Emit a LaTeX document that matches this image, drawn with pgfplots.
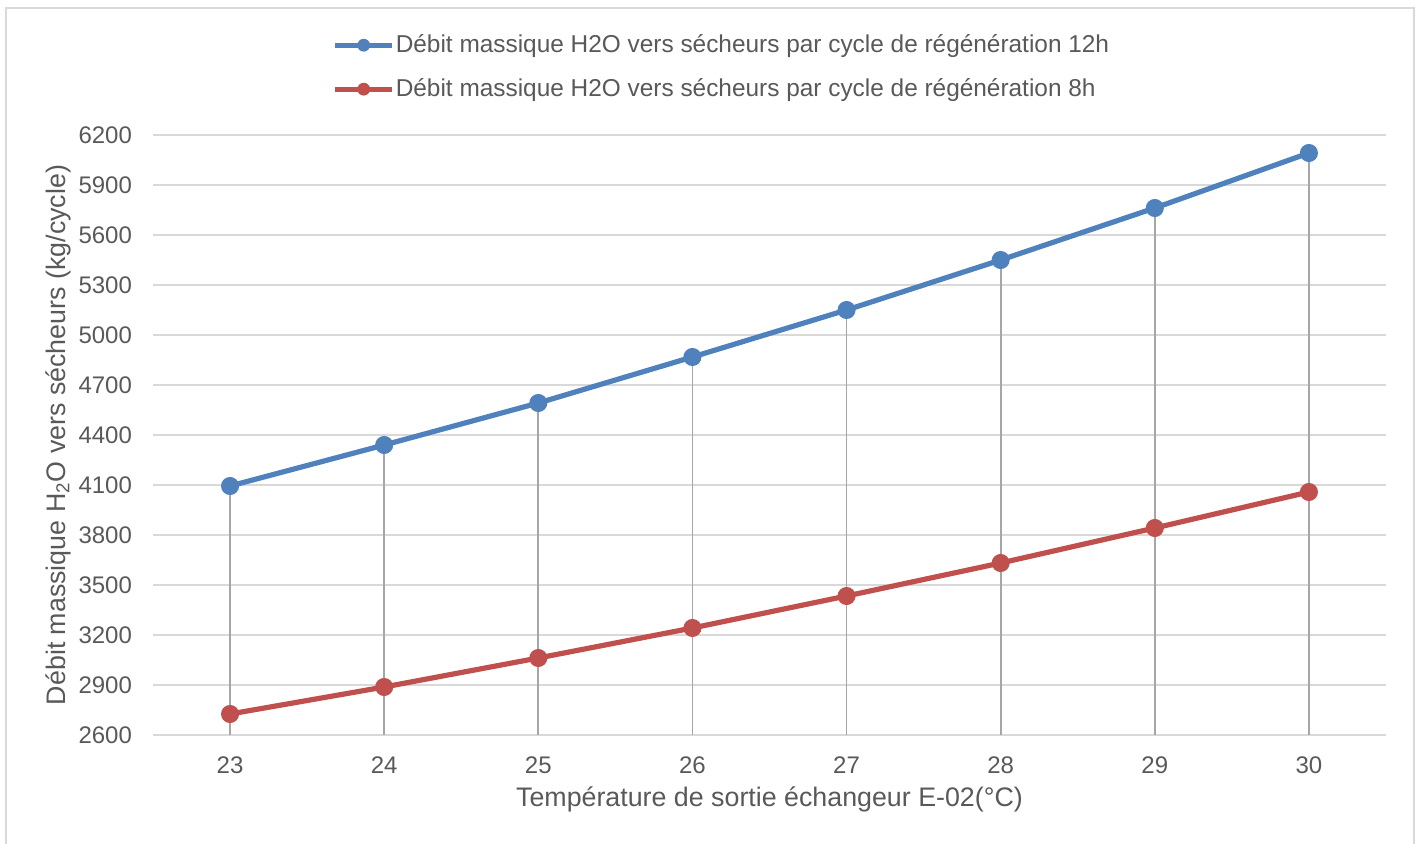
\documentclass[border=0pt]{standalone}
\usepackage{pgfplots}
\pgfplotsset{compat=1.18}
\usepackage{fontspec}
\setmainfont{Liberation Sans}
\definecolor{sblue}{HTML}{4F81BD}
\definecolor{sred}{HTML}{C0504D}
\definecolor{txt}{HTML}{595959}
\definecolor{gridgray}{HTML}{D9D9D9}
\definecolor{drop}{HTML}{A6A6A6}
\begin{document}
\begin{tikzpicture}
\useasboundingbox (0pt,0pt) rectangle (710.5pt,421.5pt);
\draw[gridgray, line width=1pt] (3pt,-3pt) rectangle (707pt,417.5pt);
\begin{axis}[
  at={(76.5pt,54pt)}, anchor=south west,
  scale only axis, width=616.5pt, height=300pt,
  xmin=22.5, xmax=30.5, ymin=2600, ymax=6200,
  xtick={23,...,30}, ytick={2600,2900,...,6200},
  axis line style={draw=none},
  major tick length=0pt,
  ymajorgrids, grid style={gridgray, line width=0.75pt},
  tick label style={font=\fontsize{12}{14}\selectfont, text=txt},
  /pgf/number format/assume math mode=true,
  /pgf/number format/1000 sep={},
  yticklabel style={xshift=-7pt},
  xticklabel style={yshift=-7.5pt},
  label style={font=\fontsize{13.4}{16}\selectfont, text=txt},
  xlabel={Température de sortie échangeur E-02(°C)},
  ylabel={Débit massique H\textsubscript{2}O vers sécheurs (kg/cycle)},
  xlabel style={at={(axis description cs:0.5,-0.108)}, anchor=center},
  ylabel style={at={(axis description cs:-0.077,0.5)}, anchor=center},
  legend style={at={(axis description cs:0.461,1.113)}, anchor=center, draw=none,
    font=\fontsize{12.2}{14}\selectfont, text=txt, row sep=10.5pt,
    inner sep=0pt, nodes={inner sep=0.5pt}},
  legend cell align=left,
  legend image code/.code={
    \draw[#1, line width=2.6pt] (0pt,0pt) -- (28.5pt,0pt);
    \fill[#1, draw=none] (14.25pt,0pt) circle (3.2pt);},
  clip=true,
]
\addplot[ycomb, drop, line width=0.9pt, forget plot] coordinates {
(23,4094) (24,4340) (25,4592) (26,4868) (27,5150) (28,5450) (29,5762) (30,6092)};
\addplot[sblue, line width=2.6pt, mark=*, mark size=3.2pt, mark options={draw=none, fill=sblue}] coordinates {
(23,4094) (24,4340) (25,4592) (26,4868) (27,5150) (28,5450) (29,5762) (30,6092)};
\addlegendentry{Débit massique H2O vers sécheurs par cycle de régénération 12h}
\addplot[sred, line width=2.6pt, mark=*, mark size=3.2pt, mark options={draw=none, fill=sred}] coordinates {
(23,2726) (24,2888) (25,3062) (26,3242) (27,3434) (28,3632) (29,3842) (30,4058)};
\addlegendentry{Débit massique H2O vers sécheurs par cycle de régénération 8h}
\end{axis}
\end{tikzpicture}
\end{document}
